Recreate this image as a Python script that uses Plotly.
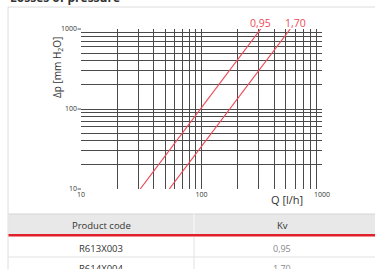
import plotly.graph_objects as go

# ---- data ----
kv_labels = ["0,95", "1,70"]
q_095 = [31, 310]
dp_095 = [10, 1000]
q_170 = [54, 545]
dp_170 = [10, 1000]
x_ticks = [10, 20, 30, 40, 50, 60, 70, 80, 90, 100, 200, 300, 400, 500, 600, 700, 800, 900, 1000]
y_ticks = x_ticks
major_labels = {10: "10", 100: "100", 1000: "1000"}
product_codes = ["R613X003", "R614X004"]
kv_values = ["0,95", "1,70"]

W, H = 375, 269
L, R, T, B = 81, 322, 29, 189

def px(x):
    return (x - L) / (R - L)

def py(y):
    return (B - y) / (B - T)

RED = "#ee4a57"
fig = go.Figure()
for q, dp in [(q_095, dp_095), (q_170, dp_170)]:
    fig.add_trace(go.Scatter(x=q, y=dp, mode="lines",
                             line=dict(color=RED, width=1.2), hoverinfo="skip"))

ticktext = [major_labels.get(v, "") for v in x_ticks]
axis_common = dict(type="log", tickmode="array", showgrid=True, gridcolor="#4a4a4a",
                   gridwidth=1, zeroline=False, showline=False, ticks="",
                   tickfont=dict(size=7, color="#333"))
fig.update_xaxes(range=[1, 3], tickvals=x_ticks, ticktext=ticktext, **axis_common)
fig.update_yaxes(range=[1, 3], tickvals=y_ticks, ticktext=ticktext, ticklabelstandoff=3, **axis_common)

shapes = []
# card border
shapes.append(dict(type="line", xref="paper", yref="paper", x0=px(8), x1=px(380), y0=py(7), y1=py(7),
                   line=dict(color="#dcdcdc", width=1)))
shapes.append(dict(type="line", xref="paper", yref="paper", x0=px(8), x1=px(8), y0=py(7), y1=py(275),
                   line=dict(color="#dcdcdc", width=1)))
# small y tick marks at labelled decades
for yy in (29, 109, 189):
    shapes.append(dict(type="line", xref="paper", yref="paper", x0=px(77.5), x1=px(81), y0=py(yy), y1=py(yy),
                       line=dict(color="#555", width=1)))
# table header
shapes.append(dict(type="rect", xref="paper", yref="paper", x0=px(8.5), x1=px(380), y0=py(214), y1=py(234),
                   fillcolor="#e8e8e8", line=dict(width=0), layer="below"))
shapes.append(dict(type="line", xref="paper", yref="paper", x0=px(8.5), x1=px(380), y0=py(214), y1=py(214),
                   line=dict(color="#d4d4d4", width=1)))
shapes.append(dict(type="line", xref="paper", yref="paper", x0=px(194), x1=px(194), y0=py(214), y1=py(234),
                   line=dict(color="#fafafa", width=1)))
shapes.append(dict(type="line", xref="paper", yref="paper", x0=px(194), x1=px(194), y0=py(237), y1=py(275),
                   line=dict(color="#e2e2e2", width=1)))
shapes.append(dict(type="line", xref="paper", yref="paper", x0=px(8.5), x1=px(380), y0=py(235.3), y1=py(235.3),
                   line=dict(color="#e0202a", width=2.5)))
shapes.append(dict(type="line", xref="paper", yref="paper", x0=px(8.5), x1=px(380), y0=py(257), y1=py(257),
                   line=dict(color="#e2e2e2", width=1)))

ann = []
def text(x, y, s, size, color, bold=False, angle=0, xanchor="center"):
    ann.append(dict(x=px(x), y=py(y), xref="paper", yref="paper", text=("<b>%s</b>" % s) if bold else s,
                    showarrow=False, font=dict(size=size, color=color), textangle=angle,
                    xanchor=xanchor, yanchor="middle"))

text(8, -2, "Losses of pressure", 12, "#333", bold=True, xanchor="left")
text(260.5, 23, kv_labels[0], 10.5, RED)
text(295, 23, kv_labels[1], 10.5, RED)
text(57, 68, "Δp [mm H<sub>2</sub>O]", 10, "#333", angle=-90)
text(287, 199, "Q [l/h]", 11, "#333")
text(101, 225, "Product code", 9.5, "#333")
text(282, 225, "Kv", 9.5, "#333")
row_y = [248, 268]
for code, kv, yy in zip(product_codes, kv_values, row_y):
    text(101, yy, code, 9.5, "#333")
    text(282, yy, kv, 9, "#888")

fig.update_layout(width=W, height=H, margin=dict(l=L, r=W - R, t=T, b=H - B),
                  paper_bgcolor="white", plot_bgcolor="white", showlegend=False,
                  font=dict(family="Open Sans, sans-serif"),
                  shapes=shapes, annotations=ann)
fig.write_html("out.html", config={"displayModeBar": False},
               post_script="document.body.style.margin='0';document.body.style.overflow='hidden';")
